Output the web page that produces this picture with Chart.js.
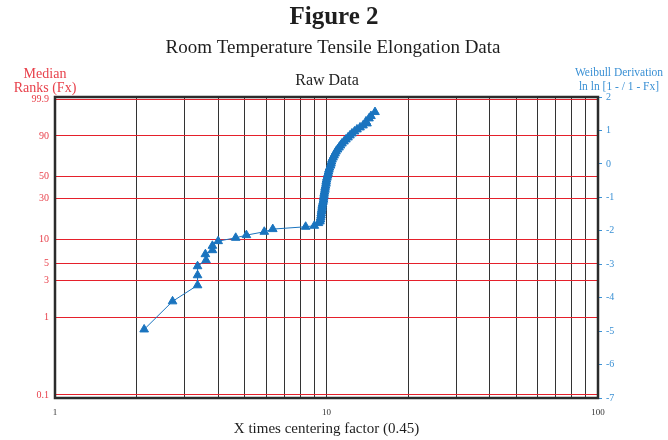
<!DOCTYPE html>
<html>
<head>
<meta charset="utf-8">
<script src="https://cdn.jsdelivr.net/npm/chart.js@4.4.1/dist/chart.umd.min.js"></script>
<style>
  html, body { margin: 0; padding: 0; background: #ffffff; }
  #wrap { width: 668px; height: 440px; position: relative; }
</style>
</head>
<body>
<div id="wrap"><canvas id="chart" width="668" height="440"></canvas></div>
<script>
// Elongation values, multiplied by the centering factor (0.45)
const centeredX = [
  2.13, 2.71, 3.35, 3.35, 3.35, 3.60, 3.58, 3.80, 3.80, 3.99,
  4.63, 5.07, 5.90, 6.34, 8.38, 9.02,
  9.34, 9.46, 9.50, 9.52, 9.55, 9.56, 9.59, 9.60, 9.63, 9.64,
  9.67, 9.71, 9.75, 9.76, 9.79, 9.80, 9.83, 9.87, 9.88, 9.92,
  9.96, 9.97, 10.00, 10.04, 10.09, 10.13, 10.17, 10.21, 10.26, 10.35,
  10.39, 10.43, 10.48, 10.57, 10.66, 10.75, 10.84, 10.98, 11.12, 11.26,
  11.40, 11.60, 11.79, 12.00, 12.20, 12.41, 12.68, 12.95, 13.29, 13.63,
  14.10, 13.98, 14.34, 14.58, 15.09
];

// Weibull derivation  ln ln [1 / (1 - Fx)]  of each median rank
const weibullY = [
  -4.95, -4.11, -3.63, -3.33, -3.06, -2.88, -2.70, -2.58, -2.45, -2.31,
  -2.21, -2.13, -2.03, -1.95, -1.88, -1.85,
  -1.77, -1.72, -1.66, -1.60, -1.54, -1.48, -1.42, -1.37, -1.31, -1.25,
  -1.19, -1.13, -1.07, -1.01, -0.95, -0.89, -0.83, -0.77, -0.71, -0.65,
  -0.59, -0.53, -0.47, -0.41, -0.35, -0.29, -0.23, -0.17, -0.11, -0.05,
  0.01, 0.07, 0.13, 0.19, 0.25, 0.31, 0.37, 0.43, 0.49, 0.55,
  0.61, 0.67, 0.73, 0.79, 0.85, 0.91, 0.97, 1.03, 1.09, 1.15,
  1.21, 1.27, 1.36, 1.43, 1.55
];

// Median rank labels (percent) on the left axis
const rankPercents = [0.1, 1, 3, 5, 10, 30, 50, 90, 99.9];
const rankLabels = ['0.1', '1', '3', '5', '10', '30', '50', '90', '99.9'];

// Weibull axis ticks on the right
const weibullTicks = [-7, -6, -5, -4, -3, -2, -1, 0, 1, 2];

// Log grid on the x axis and the labelled decades
const xGridValues = [1, 2, 3, 4, 5, 6, 7, 8, 9, 10, 20, 30, 40, 50, 60, 70, 80, 90, 100];
const xLabelledValues = [1, 10, 100];

const SERIF = "'Liberation Serif', 'DejaVu Serif', serif";
const RED = '#e5202b';
const RED_TEXT = '#e8414b';
const BLUE = '#1a74bf';
const BLUE_TEXT = '#3a90d4';

const rankToWeibull = p => Math.log(-Math.log(1 - p / 100));

const points = centeredX.map((x, i) => ({ x: x, y: weibullY[i] }));

// Headings, side captions and plot frame
const decorations = {
  id: 'decorations',
  beforeDatasetsDraw(chart) {
    const { ctx, chartArea: a } = chart;
    ctx.save();
    ctx.strokeStyle = '#2b2b2b';
    ctx.lineWidth = 2.5;
    ctx.strokeRect(a.left, a.top, a.right - a.left, a.bottom - a.top);
    ctx.restore();
  },
  afterDraw(chart) {
    const { ctx } = chart;
    ctx.save();
    ctx.textAlign = 'center';
    ctx.textBaseline = 'alphabetic';

    ctx.fillStyle = '#1e1e1e';
    ctx.font = 'bold 25px ' + SERIF;
    ctx.fillText('Figure 2', 334, 24);

    ctx.font = '19px ' + SERIF;
    ctx.fillText('Room Temperature Tensile Elongation Data', 333, 53);

    ctx.font = '16px ' + SERIF;
    ctx.fillText('Raw Data', 327, 85);

    ctx.fillStyle = RED_TEXT;
    ctx.font = '14px ' + SERIF;
    ctx.fillText('Median', 45, 78);
    ctx.fillText('Ranks (Fx)', 45, 92);

    ctx.fillStyle = BLUE_TEXT;
    ctx.font = '11.5px ' + SERIF;
    ctx.fillText('Weibull Derivation', 619, 76);
    ctx.fillText('ln ln [1 - / 1 - Fx]', 619, 90);
    ctx.restore();
  }
};

new Chart(document.getElementById('chart'), {
  type: 'scatter',
  data: {
    datasets: [{
      data: points,
      showLine: true,
      borderColor: BLUE,
      borderWidth: 1,
      backgroundColor: BLUE,
      pointStyle: 'triangle',
      pointRadius: 5,
      pointBorderWidth: 1,
      pointBorderColor: BLUE,
      pointBackgroundColor: BLUE,
      yAxisID: 'y'
    }]
  },
  options: {
    responsive: false,
    animation: false,
    layout: { padding: { top: 97, left: 0, right: 0, bottom: 0 } },
    plugins: {
      legend: { display: false },
      tooltip: { enabled: false }
    },
    scales: {
      x: {
        type: 'logarithmic',
        min: 1,
        max: 100,
        afterBuildTicks: s => { s.ticks = xGridValues.map(v => ({ value: v })); },
        afterFit: s => { s.height = 42; },
        ticks: {
          autoSkip: false,
          maxRotation: 0,
          padding: 9,
          color: '#333333',
          font: { family: SERIF, size: 9 },
          callback: v => xLabelledValues.includes(v) ? String(v) : ''
        },
        grid: { color: '#333333', lineWidth: 1, drawTicks: false },
        border: { display: false },
        title: {
          display: true,
          text: 'X times centering factor (0.45)',
          color: '#1e1e1e',
          font: { family: SERIF, size: 15 },
          padding: { top: 0, bottom: 2 }
        }
      },
      yRank: {
        type: 'linear',
        position: 'left',
        min: -7,
        max: 2,
        afterBuildTicks: s => { s.ticks = rankPercents.map(p => ({ value: rankToWeibull(p) })); },
        afterFit: s => { s.width = 55; },
        ticks: {
          padding: 6,
          color: RED_TEXT,
          font: { family: SERIF, size: 10 },
          callback: (v, i) => rankLabels[i]
        },
        grid: { color: RED, lineWidth: 1, drawTicks: false },
        border: { display: false }
      },
      y: {
        type: 'linear',
        position: 'right',
        min: -7,
        max: 2,
        afterBuildTicks: s => { s.ticks = weibullTicks.map(v => ({ value: v })); },
        afterFit: s => { s.width = 70; },
        ticks: {
          padding: 4,
          crossAlign: 'near',
          color: BLUE_TEXT,
          font: { family: SERIF, size: 10 },
          callback: v => String(v)
        },
        grid: {
          drawOnChartArea: false,
          drawTicks: true,
          tickLength: 4,
          tickColor: BLUE_TEXT,
          color: BLUE_TEXT
        },
        border: { display: false }
      }
    }
  },
  plugins: [decorations]
});
</script>
</body>
</html>
